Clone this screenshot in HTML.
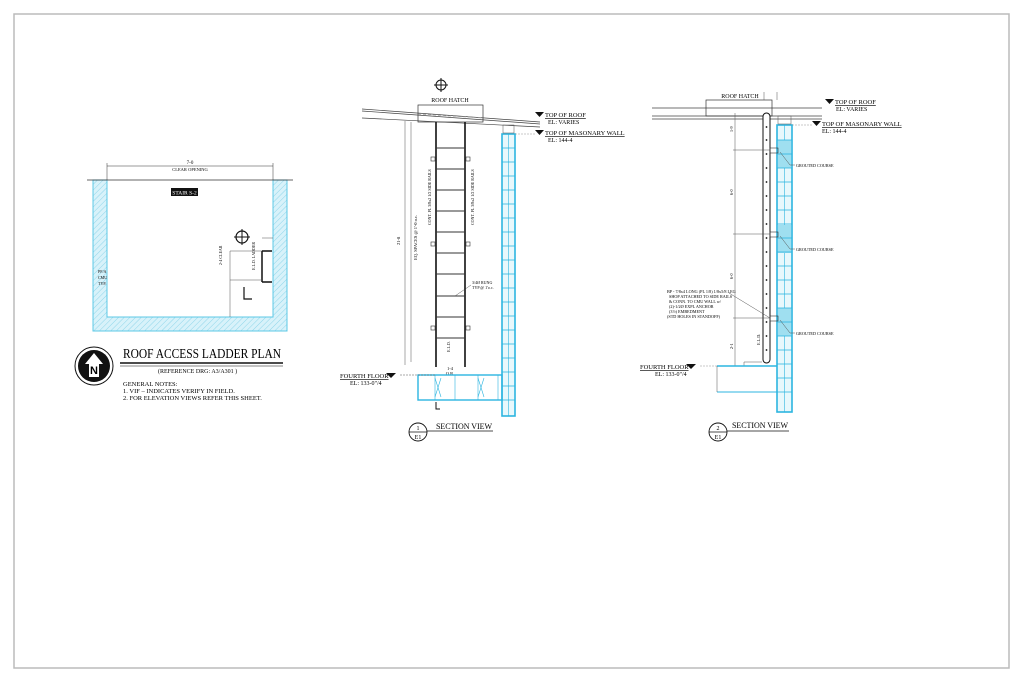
<!DOCTYPE html>
<html><head><meta charset="utf-8"><style>
html,body{margin:0;padding:0;background:#fff;}
svg{display:block;font-family:"Liberation Serif",serif;}
</style></head><body>
<svg width="1024" height="683" viewBox="0 0 1024 683" xmlns="http://www.w3.org/2000/svg">
<defs>
<pattern id="h" width="4" height="4" patternUnits="userSpaceOnUse" patternTransform="rotate(45)">
<rect width="4" height="4" fill="#d8f2fa"/><line x1="0" y1="0" x2="0" y2="4" stroke="#8fd6ea" stroke-width="1"/>
</pattern>
</defs>
<rect x="14" y="14" width="995" height="654" fill="none" stroke="#bbb" stroke-width="1.5"/>

<!-- PLAN -->
<path d="M93,180 H107 V317 H273 V180 H287 V331 H93 Z" fill="url(#h)" stroke="#5cc8e6" stroke-width="1"/>
<line x1="87" y1="180" x2="293" y2="180" stroke="#333" stroke-width="0.7"/>
<line x1="107" y1="166" x2="273" y2="166" stroke="#333" stroke-width="0.6"/>
<line x1="107" y1="163" x2="107" y2="180" stroke="#333" stroke-width="0.5"/>
<line x1="273" y1="163" x2="273" y2="180" stroke="#333" stroke-width="0.5"/>
<text x="190" y="164" font-size="5" text-anchor="middle">7-0</text>
<text x="190" y="171" font-size="4.5" text-anchor="middle">CLEAR OPENING</text>
<rect x="171" y="188" width="27" height="8" fill="#111"/>
<text x="184.5" y="194.5" font-size="5.5" fill="#fff" text-anchor="middle">STAIR S-2</text>
<circle cx="242" cy="237" r="6" fill="none" stroke="#111" stroke-width="1.2"/>
<line x1="242" y1="229" x2="242" y2="245" stroke="#111"/><line x1="234" y1="237" x2="250" y2="237" stroke="#111"/>
<path d="M262,251 V282 M262,251 H272 M262,282 H272" fill="none" stroke="#111" stroke-width="1.5"/>
<line x1="230" y1="251" x2="262" y2="251" stroke="#555" stroke-width="0.5"/>
<line x1="230" y1="280" x2="262" y2="280" stroke="#555" stroke-width="0.5"/>
<line x1="230" y1="251" x2="230" y2="317" stroke="#555" stroke-width="0.5"/>
<line x1="262" y1="238" x2="273" y2="238" stroke="#555" stroke-width="0.5"/>
<path d="M244,287 V299 H252" fill="none" stroke="#111" stroke-width="1.2"/>
<text x="222" y="265" font-size="4" transform="rotate(-90 222 265)">2-4 CLEAR</text>
<text x="255" y="270" font-size="4" transform="rotate(-90 255 270)">E.L.D. LADDER</text>
<text x="98" y="273" font-size="4">PF/A</text><text x="98" y="279" font-size="4">CMU</text><text x="98" y="285" font-size="4">TYP.</text>

<!-- compass & title -->
<circle cx="94" cy="366" r="16" fill="#111"/>
<circle cx="94" cy="366" r="19" fill="none" stroke="#111" stroke-width="1"/>
<path d="M94,353 L103,364 H99 V377 H89 V364 H85 Z" fill="#fff"/>
<text x="94" y="374" font-size="11" text-anchor="middle" font-family="Liberation Sans,sans-serif" font-weight="bold">N</text>
<text x="123" y="358" font-size="14" textLength="158" lengthAdjust="spacingAndGlyphs">ROOF ACCESS LADDER PLAN</text>
<line x1="120" y1="363" x2="283" y2="363" stroke="#111" stroke-width="1.4"/>
<line x1="120" y1="366" x2="283" y2="366" stroke="#111" stroke-width="0.6"/>
<text x="158" y="373" font-size="6">(REFERENCE DRG: A3/A301 )</text>
<text x="123" y="386" font-size="6.5">GENERAL NOTES:</text>
<text x="123" y="393" font-size="6.5">1. VIF – INDICATES VERIFY IN FIELD.</text>
<text x="123" y="400" font-size="6.5">2. FOR ELEVATION VIEWS REFER THIS SHEET.</text>

<!-- SECTION 1 -->
<path d="M362,109 L540,122 M362,118 L540,127 M362,111 L540,124" fill="none" stroke="#444" stroke-width="0.7"/>
<rect x="418" y="105" width="65" height="17" fill="none" stroke="#333" stroke-width="0.7"/>
<line x1="418" y1="114" x2="483" y2="118" stroke="#999" stroke-dasharray="3,2" stroke-width="0.7"/>
<text x="450" y="102" font-size="6" text-anchor="middle">ROOF HATCH</text>
<circle cx="441" cy="85" r="5" fill="none" stroke="#111"/><line x1="441" y1="78" x2="441" y2="92" stroke="#111"/><line x1="434" y1="85" x2="448" y2="85" stroke="#111"/>
<line x1="436" y1="122" x2="436" y2="367" stroke="#111" stroke-width="1.6"/>
<line x1="465" y1="122" x2="465" y2="367" stroke="#111" stroke-width="1.6"/>
<g stroke="#333" stroke-width="0.9">
<line x1="436" y1="148" x2="465" y2="148"/><line x1="436" y1="169" x2="465" y2="169"/><line x1="436" y1="190" x2="465" y2="190"/><line x1="436" y1="211" x2="465" y2="211"/><line x1="436" y1="232" x2="465" y2="232"/><line x1="436" y1="253" x2="465" y2="253"/><line x1="436" y1="274" x2="465" y2="274"/><line x1="436" y1="296" x2="465" y2="296"/><line x1="436" y1="317" x2="465" y2="317"/><line x1="436" y1="338" x2="465" y2="338"/>
</g>
<g fill="none" stroke="#333" stroke-width="0.6">
<rect x="431" y="157" width="4" height="4"/><rect x="466" y="157" width="4" height="4"/>
<rect x="431" y="242" width="4" height="4"/><rect x="466" y="242" width="4" height="4"/>
<rect x="431" y="326" width="4" height="4"/><rect x="466" y="326" width="4" height="4"/>
</g>
<line x1="405" y1="121" x2="405" y2="365" stroke="#555" stroke-width="0.5"/>
<line x1="411" y1="122" x2="411" y2="362" stroke="#555" stroke-width="0.5"/>
<text x="400" y="245" font-size="4.5" transform="rotate(-90 400 245)">21-8</text>
<text x="417" y="260" font-size="4.5" transform="rotate(-90 417 260)">EQ. SPACES @ 1'-0 o.c.</text>
<text x="431" y="225" font-size="4" transform="rotate(-90 431 225)">CONT. PL 3/8x2 1/2 SIDE RAILS</text>
<text x="474" y="225" font-size="4" transform="rotate(-90 474 225)">CONT. PL 3/8x2 1/2 SIDE RAILS</text>
<text x="472" y="284" font-size="4">3/4Ø RUNG</text><text x="472" y="289" font-size="4">TYP @ 1'o.c.</text>
<line x1="455" y1="296" x2="471" y2="285" stroke="#333" stroke-width="0.4"/>
<text x="450" y="352" font-size="4" transform="rotate(-90 450 352)">E.L.D.</text>
<text x="450" y="370" font-size="4.5" text-anchor="middle">1-4</text><text x="450" y="375" font-size="4.5" text-anchor="middle">O.R.</text>
<!-- wall -->
<rect x="502" y="134" width="13" height="282" fill="#e8f8fc" stroke="#2cb5e0" stroke-width="1.6"/>
<line x1="508.5" y1="134" x2="508.5" y2="416" stroke="#2cb5e0" stroke-width="0.6"/>
<g stroke="#2cb5e0" stroke-width="0.8">
<line x1="502" y1="148" x2="515" y2="148"/><line x1="502" y1="162" x2="515" y2="162"/><line x1="502" y1="176" x2="515" y2="176"/><line x1="502" y1="190" x2="515" y2="190"/><line x1="502" y1="204" x2="515" y2="204"/><line x1="502" y1="218" x2="515" y2="218"/><line x1="502" y1="232" x2="515" y2="232"/><line x1="502" y1="246" x2="515" y2="246"/><line x1="502" y1="260" x2="515" y2="260"/><line x1="502" y1="274" x2="515" y2="274"/><line x1="502" y1="288" x2="515" y2="288"/><line x1="502" y1="302" x2="515" y2="302"/><line x1="502" y1="316" x2="515" y2="316"/><line x1="502" y1="330" x2="515" y2="330"/><line x1="502" y1="344" x2="515" y2="344"/><line x1="502" y1="358" x2="515" y2="358"/><line x1="502" y1="372" x2="515" y2="372"/><line x1="502" y1="386" x2="515" y2="386"/><line x1="502" y1="400" x2="515" y2="400"/>
</g>
<rect x="503" y="125" width="11" height="8" fill="none" stroke="#555" stroke-width="0.5"/>
<!-- floor -->
<rect x="418" y="375" width="84" height="25" fill="none" stroke="#2cb5e0" stroke-width="1.4"/>
<g stroke="#2cb5e0" stroke-width="0.6">
<line x1="435" y1="375" x2="435" y2="400"/><line x1="455" y1="375" x2="455" y2="400"/><line x1="478" y1="375" x2="478" y2="400"/><line x1="498" y1="375" x2="498" y2="400"/>
<line x1="435" y1="378" x2="441" y2="397"/><line x1="441" y1="378" x2="435" y2="397"/>
<line x1="478" y1="378" x2="484" y2="397"/><line x1="484" y1="378" x2="478" y2="397"/>
</g>
<path d="M436,402 V409 H440" fill="none" stroke="#111"/>
<text x="340" y="378" font-size="6.5" text-decoration="underline">FOURTH FLOOR</text>
<path d="M386,373 H396 L391,378 Z" fill="#111"/>
<text x="350" y="385" font-size="6">EL: 133-0"/4</text>
<line x1="400" y1="375" x2="436" y2="375" stroke="#555" stroke-width="0.5" stroke-dasharray="2,1"/>
<text x="545" y="117" font-size="6.5" text-decoration="underline">TOP OF ROOF</text>
<path d="M535,112 H544 L539.5,117 Z" fill="#111"/>
<text x="548" y="124" font-size="6">EL: VARIES</text>
<text x="545" y="135" font-size="6.5" text-decoration="underline">TOP OF MASONARY WALL</text>
<path d="M535,130 H544 L539.5,135 Z" fill="#111"/>
<text x="548" y="142" font-size="6">EL: 144-4</text>
<line x1="515" y1="134" x2="535" y2="134" stroke="#777" stroke-width="0.4" stroke-dasharray="2,1"/>
<circle cx="418" cy="432" r="9" fill="none" stroke="#111" stroke-width="0.9"/>
<line x1="409" y1="432" x2="427" y2="432" stroke="#111" stroke-width="0.7"/>
<text x="418" y="430" font-size="6" text-anchor="middle">1</text><text x="418" y="439" font-size="6" text-anchor="middle">E1</text>
<text x="436" y="429" font-size="8" textLength="56">SECTION VIEW</text>
<line x1="427" y1="431" x2="493" y2="431" stroke="#111" stroke-width="0.7"/>

<!-- SECTION 2 -->
<path d="M652,108 H822 M652,116 H822 M652,119 H822" fill="none" stroke="#444" stroke-width="0.7"/>
<rect x="706" y="100" width="66" height="16" fill="none" stroke="#333" stroke-width="0.7"/>
<text x="740" y="98" font-size="6" text-anchor="middle">ROOF HATCH</text>
<line x1="764" y1="92" x2="764" y2="100" stroke="#555" stroke-width="0.5"/><line x1="777" y1="92" x2="777" y2="100" stroke="#555" stroke-width="0.5"/>
<rect x="763" y="113" width="7" height="250" rx="3.5" fill="#fff" stroke="#111" stroke-width="1"/>
<g fill="#111">
<circle cx="766.5" cy="127" r="0.9"/><circle cx="766.5" cy="140" r="0.9"/><circle cx="766.5" cy="154" r="0.9"/><circle cx="766.5" cy="168" r="0.9"/><circle cx="766.5" cy="182" r="0.9"/><circle cx="766.5" cy="196" r="0.9"/><circle cx="766.5" cy="210" r="0.9"/><circle cx="766.5" cy="224" r="0.9"/><circle cx="766.5" cy="238" r="0.9"/><circle cx="766.5" cy="252" r="0.9"/><circle cx="766.5" cy="266" r="0.9"/><circle cx="766.5" cy="280" r="0.9"/><circle cx="766.5" cy="294" r="0.9"/><circle cx="766.5" cy="308" r="0.9"/><circle cx="766.5" cy="322" r="0.9"/><circle cx="766.5" cy="336" r="0.9"/><circle cx="766.5" cy="350" r="0.9"/>
</g>
<rect x="777" y="125" width="15" height="287" fill="#e8f8fc" stroke="#2cb5e0" stroke-width="1.6"/>
<line x1="784.5" y1="125" x2="784.5" y2="412" stroke="#2cb5e0" stroke-width="0.6"/>
<g fill="#9fdff0">
<rect x="778" y="140" width="13" height="28"/><rect x="778" y="225" width="13" height="28"/><rect x="778" y="308" width="13" height="28"/>
</g>
<g stroke="#2cb5e0" stroke-width="0.8">
<line x1="777" y1="140" x2="792" y2="140"/><line x1="777" y1="154" x2="792" y2="154"/><line x1="777" y1="168" x2="792" y2="168"/><line x1="777" y1="182" x2="792" y2="182"/><line x1="777" y1="196" x2="792" y2="196"/><line x1="777" y1="210" x2="792" y2="210"/><line x1="777" y1="224" x2="792" y2="224"/><line x1="777" y1="238" x2="792" y2="238"/><line x1="777" y1="252" x2="792" y2="252"/><line x1="777" y1="266" x2="792" y2="266"/><line x1="777" y1="280" x2="792" y2="280"/><line x1="777" y1="294" x2="792" y2="294"/><line x1="777" y1="308" x2="792" y2="308"/><line x1="777" y1="322" x2="792" y2="322"/><line x1="777" y1="336" x2="792" y2="336"/><line x1="777" y1="350" x2="792" y2="350"/><line x1="777" y1="364" x2="792" y2="364"/><line x1="777" y1="378" x2="792" y2="378"/><line x1="777" y1="392" x2="792" y2="392"/>
</g>
<g fill="none" stroke="#333" stroke-width="0.6">
<rect x="770" y="148" width="8" height="5"/><rect x="770" y="232" width="8" height="5"/><rect x="770" y="316" width="8" height="5"/>
</g>
<g stroke="#555" stroke-width="0.5">
<line x1="735" y1="113" x2="735" y2="366"/>
<line x1="733" y1="150" x2="770" y2="150"/><line x1="733" y1="234" x2="770" y2="234"/><line x1="733" y1="318" x2="770" y2="318"/>
<line x1="780" y1="152" x2="790" y2="165"/><line x1="790" y1="165" x2="795" y2="165"/>
<line x1="780" y1="236" x2="790" y2="249"/><line x1="790" y1="249" x2="795" y2="249"/>
<line x1="780" y1="320" x2="790" y2="333"/><line x1="790" y1="333" x2="795" y2="333"/>
<line x1="729" y1="293" x2="770" y2="318"/>
</g>
<g font-size="4.2">
<text x="796" y="167">GROUTED COURSE</text><text x="796" y="251">GROUTED COURSE</text><text x="796" y="335">GROUTED COURSE</text>
<text x="667" y="293">BP - 7/8x4 LONG (PL 1/8) 1/8x5/8 LEG</text>
<text x="669" y="298">SHOP ATTACHED TO SIDE RAILS</text>
<text x="669" y="303">&amp; CONN. TO CMU WALL w/</text>
<text x="669" y="308">(2)-1/2Ø EXPL ANCHOR</text>
<text x="669" y="313">(3½) EMBEDMENT</text>
<text x="667" y="318">(STD HOLES IN STANDOFF)</text>
</g>
<text x="733" y="132" font-size="4.2" transform="rotate(-90 733 132)">1-9</text>
<text x="733" y="195" font-size="4.2" transform="rotate(-90 733 195)">6-0</text>
<text x="733" y="279" font-size="4.2" transform="rotate(-90 733 279)">6-0</text>
<text x="733" y="349" font-size="4.2" transform="rotate(-90 733 349)">2-1</text>
<text x="760" y="345" font-size="4.2" transform="rotate(-90 760 345)">E.L.D.</text>
<path d="M744,366 V362 H762" fill="none" stroke="#555" stroke-width="0.5"/>
<line x1="717" y1="366" x2="777" y2="366" stroke="#2cb5e0" stroke-width="1.4"/>
<line x1="717" y1="392" x2="777" y2="392" stroke="#2cb5e0" stroke-width="1"/>
<line x1="717" y1="366" x2="717" y2="392" stroke="#555" stroke-width="0.5"/>
<line x1="700" y1="366" x2="717" y2="366" stroke="#777" stroke-width="0.4" stroke-dasharray="2,1"/>
<text x="640" y="369" font-size="6.5" text-decoration="underline">FOURTH FLOOR</text>
<path d="M686,364 H696 L691,369 Z" fill="#111"/>
<text x="655" y="376" font-size="6">EL: 133-0"/4</text>
<text x="835" y="104" font-size="6.5" text-decoration="underline">TOP OF ROOF</text>
<path d="M825,99 H834 L829.5,104 Z" fill="#111"/>
<text x="836" y="111" font-size="6">EL: VARIES</text>
<text x="822" y="126" font-size="6.5" text-decoration="underline">TOP OF MASONARY WALL</text>
<path d="M812,121 H821 L816.5,126 Z" fill="#111"/>
<text x="822" y="133" font-size="6">EL: 144-4</text>
<rect x="778" y="116" width="13" height="8" fill="none" stroke="#555" stroke-width="0.5"/>
<line x1="792" y1="125" x2="812" y2="125" stroke="#777" stroke-width="0.4" stroke-dasharray="2,1"/>
<circle cx="718" cy="432" r="9" fill="none" stroke="#111" stroke-width="0.9"/>
<line x1="709" y1="432" x2="727" y2="432" stroke="#111" stroke-width="0.7"/>
<text x="718" y="430" font-size="6" text-anchor="middle">2</text><text x="718" y="439" font-size="6" text-anchor="middle">E1</text>
<text x="732" y="428" font-size="8" textLength="56">SECTION VIEW</text>
<line x1="727" y1="431" x2="789" y2="431" stroke="#111" stroke-width="0.7"/>
</svg>
</body></html>
